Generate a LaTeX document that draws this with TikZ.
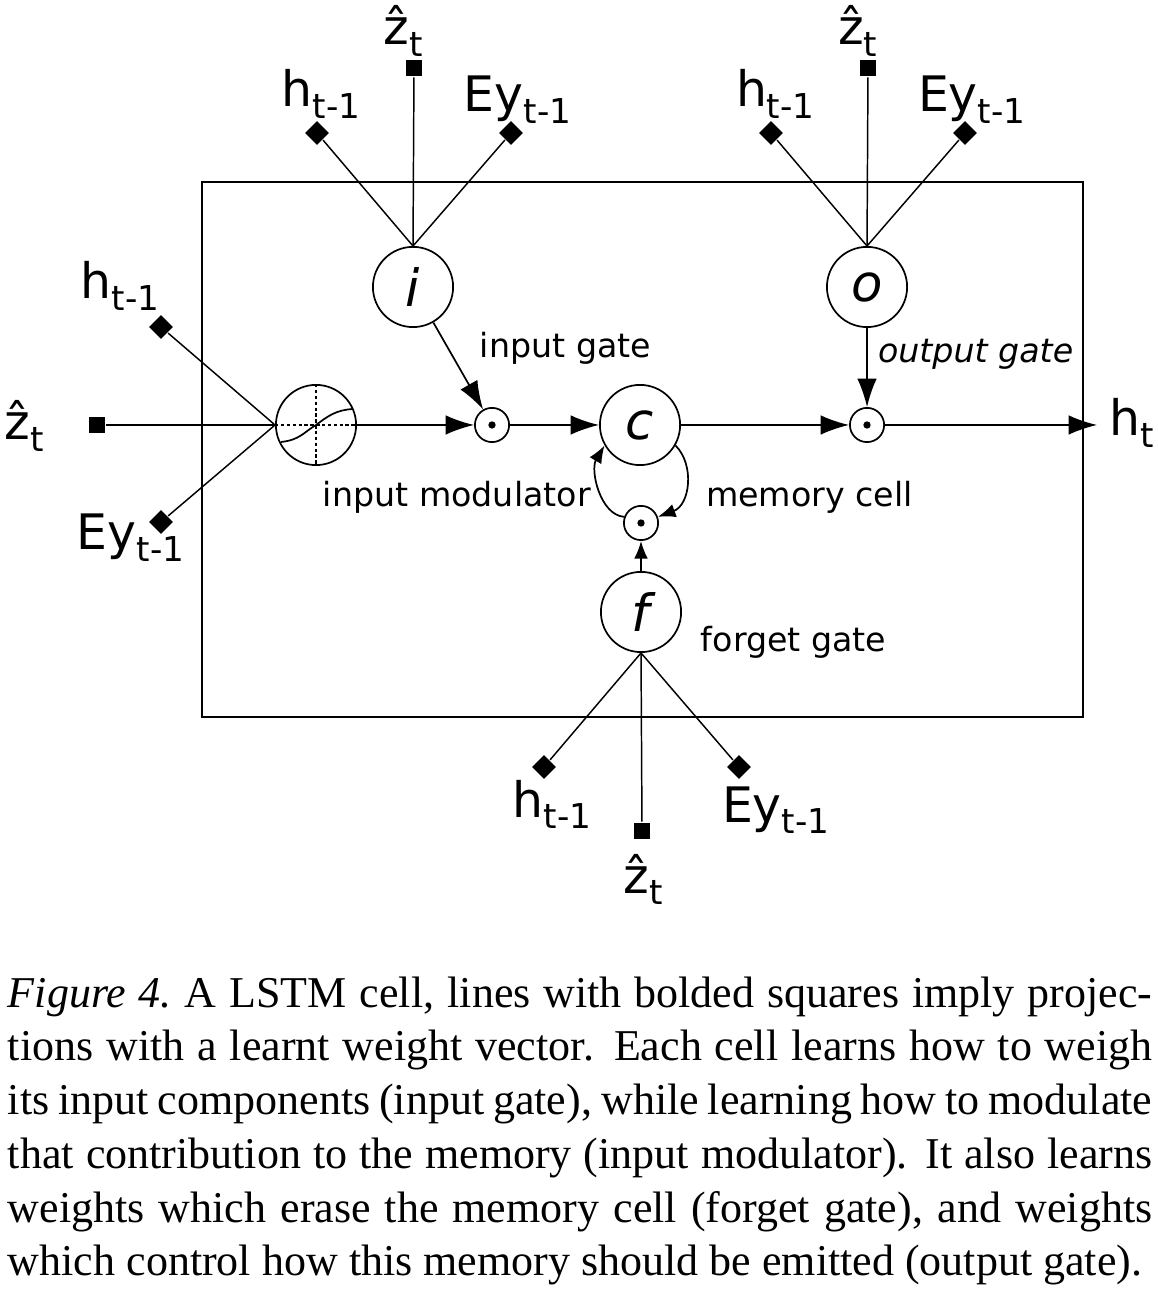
\documentclass[tikz,border=0pt]{standalone}
\usepackage{fontspec}
\setmainfont{Liberation Serif}
\newfontfamily\diafont{DejaVu Sans}
\usetikzlibrary{shapes.geometric,arrows.meta}
\newcommand{\lowidx}[1]{\raisebox{-2.4pt}{\fontsize{7}{8}\selectfont #1}}

\begin{document}
\begin{tikzpicture}[x=0.2045pt,y=-0.2045pt,
  gate/.style={circle,draw,line width=0.35pt,minimum size=16.4pt,inner sep=0pt,
    font=\diafont\itshape\fontsize{10.5}{11}\selectfont},
  mult/.style={circle,draw,line width=0.35pt,minimum size=7pt,inner sep=0pt},
  proj/.style={rectangle,fill,minimum size=3.4pt,inner sep=0pt},
  wgt/.style={diamond,fill,minimum size=5pt,inner sep=0pt},
  lbl/.style={anchor=base west,inner sep=0pt,font=\diafont\fontsize{10}{11}\selectfont},
  note/.style={anchor=base west,inner sep=0pt,font=\diafont\fontsize{6.8}{8}\selectfont},
  inote/.style={note,font=\diafont\itshape\fontsize{6.8}{8}\selectfont},
  flow/.style={-{Latex[length=5.8pt,width=4pt]},line width=0.35pt},
  back/.style={-{Latex[length=3.6pt,width=2.8pt]},line width=0.35pt},
  wire/.style={line width=0.3pt},
  guide/.style={line width=0.25pt,dash pattern=on 0.7pt off 0.5pt}]%
\useasboundingbox (0,0) rectangle (1158,1292);%
%
\draw[line width=0.45pt] (202,182) rectangle (1083,717);%
%
% input gate
\node[gate] (ig) at (413,287) {i};%
\node[wgt] (igh) at (317,133) {};%
\node[proj] (igz) at (414,68) {};%
\node[wgt] (igy) at (511,133) {};%
\node[lbl] (ighl) at (281,107) {h\lowidx{t-1}};%
\node[lbl] (igzl) at (383,45) {ẑ\lowidx{t}};%
\node[lbl] (igyl) at (463,112) {Ey\lowidx{t-1}};%
\draw[wire] (ig.north) -- (igh);%
\draw[wire] (ig.north) -- (igz);%
\draw[wire] (ig.north) -- (igy);%
%
% output gate
\node[gate] (og) at (867,287) {o};%
\node[wgt] (ogh) at (771,133) {};%
\node[proj] (ogz) at (868,68) {};%
\node[wgt] (ogy) at (965,133) {};%
\node[lbl] (oghl) at (735,107) {h\lowidx{t-1}};%
\node[lbl] (ogzl) at (837,45) {ẑ\lowidx{t}};%
\node[lbl] (ogyl) at (917,112) {Ey\lowidx{t-1}};%
\draw[wire] (og.north) -- (ogh);%
\draw[wire] (og.north) -- (ogz);%
\draw[wire] (og.north) -- (ogy);%
%
% input modulator
\node[gate] (mod) at (316,425) {};%
\node[wgt] (mh) at (161,327) {};%
\node[proj] (mz) at (97,425) {};%
\node[wgt] (my) at (161,522) {};%
\node[lbl] (mhl) at (80,299) {h\lowidx{t-1}};%
\node[lbl] (mzl) at (4,440) {ẑ\lowidx{t}};%
\node[lbl] (myl) at (76,550) {Ey\lowidx{t-1}};%
\draw[wire] (mod.west) -- (mh);%
\draw[wire] (mod.west) -- (mz);%
\draw[wire] (mod.west) -- (my);%
\draw[guide] (mod.west) -- (mod.east);%
\draw[guide] (mod.north) -- (mod.south);%
\draw[line width=0.35pt] (281,442) .. controls (300,440) and (304,432) .. (316,425) .. controls (328,416) and (336,410) .. (353,409);%
%
% forget gate
\node[gate] (fg) at (641,612) {f};%
\node[wgt] (fh) at (544,767) {};%
\node[proj] (fz) at (642,831) {};%
\node[wgt] (fy) at (739,767) {};%
\node[lbl] (fhl) at (512,817) {h\lowidx{t-1}};%
\node[lbl] (fzl) at (623,893) {ẑ\lowidx{t}};%
\node[lbl] (fyl) at (721,822) {Ey\lowidx{t-1}};%
\draw[wire] (fg.south) -- (fh);%
\draw[wire] (fg.south) -- (fz);%
\draw[wire] (fg.south) -- (fy);%
%
% cell and products
\node[gate] (cc) at (640,425) {c};%
\node[mult] (imult) at (492,425) {};%
\node[mult] (omult) at (867,425) {};%
\node[mult] (fmult) at (641,523) {};%
\fill (imult) circle (0.75pt);%
\fill (omult) circle (0.75pt);%
\fill (fmult) circle (0.75pt);%
\coordinate (out) at (1097,425);%
\node[lbl] (htl) at (1108,436) {h\lowidx{t}};%
%
\draw[flow] (mod) -- (imult);%
\draw[flow] (imult) -- (cc);%
\draw[flow] (cc) -- (omult);%
\draw[flow] (omult) -- (out);%
\draw[flow] (ig) -- (imult);%
\draw[flow] (og) -- (omult);%
\draw[back] (fg) -- (fmult);%
\draw[back] (cc.-30) .. controls (695,465) and (690,505) .. (fmult.20);%
\draw[back] (fmult.160) .. controls (600,515) and (590,470) .. (cc.-150);%
%
\node[note] (igt) at (479,358) {input gate};%
\node[note] (imt) at (322,507) {input modulator};%
\node[note] (mct) at (705,507) {memory cell};%
\node[inote] (ogt) at (877,363) {output gate};%
\node[note] (fgt) at (700,652) {forget gate};%
%
% caption
\node[anchor=base west,inner sep=0pt,text width=234pt,align=justify,font=\fontsize{9}{11}\selectfont] (caption) at (7,1007) {\textit{Figure 4.}\ A LSTM cell, lines with bolded squares imply projec-\linebreak tions with a learnt weight vector. Each cell learns how to weigh\linebreak its input components (input gate), while learning how to modulate\linebreak that contribution to the memory (input modulator). It also learns\linebreak weights which erase the memory cell (forget gate), and weights\linebreak which control how this memory should be emitted (output gate).};%
\end{tikzpicture}
\end{document}
